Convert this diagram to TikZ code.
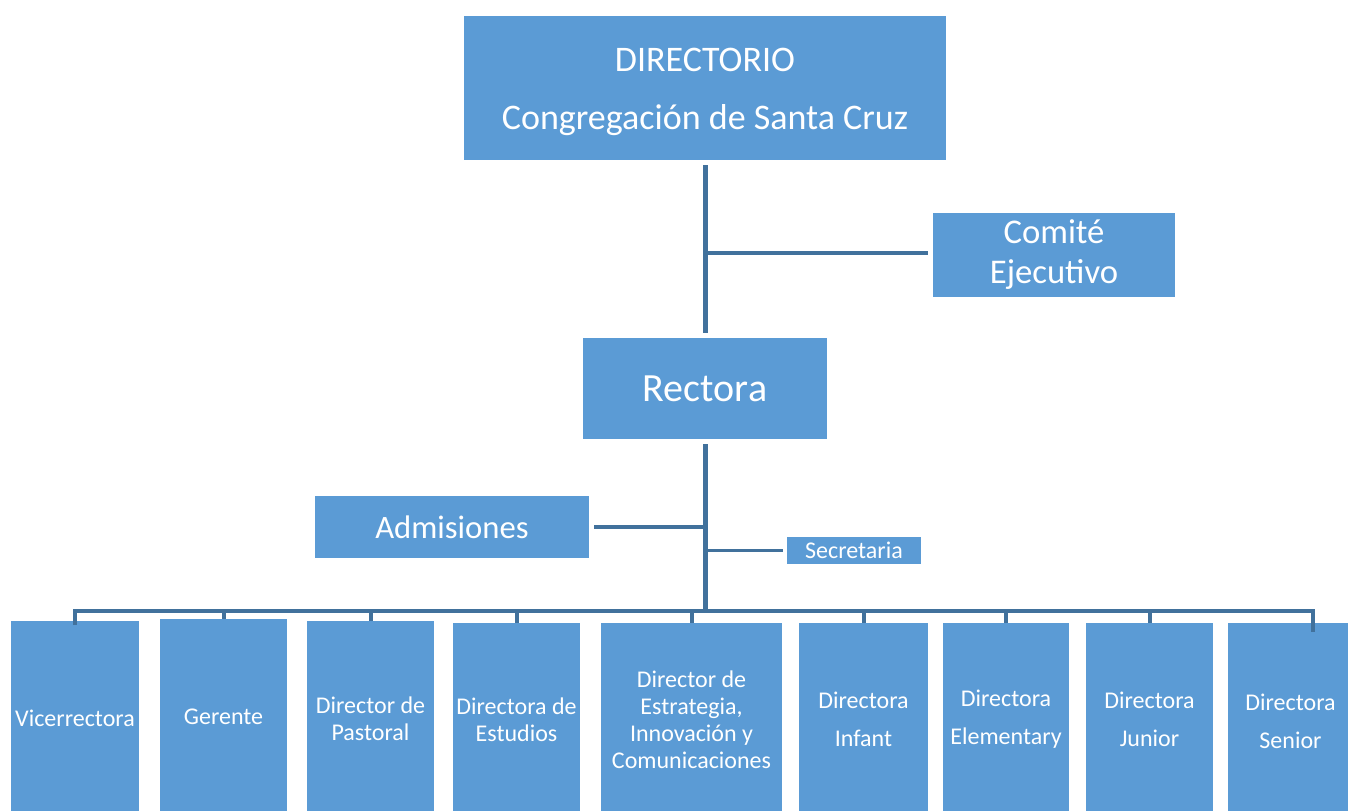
\documentclass[tikz,border=0pt]{standalone}
\usepackage{fontspec}
\setmainfont{Carlito}
\definecolor{boxblue}{HTML}{5B9BD5}
\definecolor{linkblue}{HTML}{41719C}
\begin{document}
\begin{tikzpicture}[x=0.75pt,y=-0.75pt,
  box/.style={fill=boxblue,text=white,inner sep=0pt,align=center},
  sz/.style 2 args={minimum width=#1*0.75pt,minimum height=#2*0.75pt},
  child/.style={box,anchor=north,font=\fontsize{18}{20.25}\selectfont},
  trunk/.style={draw=linkblue,line width=3.75pt},
  link/.style={draw=linkblue,line width=2.4pt},
  busline/.style={draw=linkblue,line width=3pt}]
\useasboundingbox (0,0) rectangle (1348,810);

\node[box,sz={482}{144},font=\fontsize{27}{43}\selectfont] (dir) at (705,88)
  {\rule{0pt}{23.5pt}DIRECTORIO\\Congregación de Santa Cruz};
\node[box,sz={242}{84},font=\fontsize{26}{30}\selectfont] (com) at (1054,254.5)
  {Comité\\Ejecutivo};
\node[box,sz={244}{101},font=\fontsize{30}{36}\selectfont] (rect) at (705,388.5)
  {Rectora};
\node[box,sz={274}{62},font=\fontsize{24.5}{29}\selectfont] (adm) at (452,527)
  {Admisiones};
\node[box,sz={134}{27},font=\fontsize{18}{21}\selectfont] (sec) at (854,550.5)
  {Secretaria};

\node[child,sz={128}{194}] (vic) at (75,621) {Vicerrectora};
\node[child,sz={127}{196}] (ger) at (223.5,619) {Gerente};
\node[child,sz={127}{194}] (pas) at (370.5,621) {Director de\\Pastoral};
\node[child,sz={127}{192}] (est) at (516.5,623) {Directora de\\Estudios};
\node[child,sz={181}{192}] (estr) at (691.5,623) {Director de\\Estrategia,\\Innovación y\\Comunicaciones};
\node[child,sz={129}{192}] (inf) at (863.5,623) {Directora\\[8.25pt]Infant};
\node[child,sz={126}{192}] (ele) at (1006,623) {Directora\\[8.25pt]Elementary};
\node[child,sz={127}{192}] (jun) at (1149.5,623) {Directora\\[8.25pt]Junior};
\node[child,sz={125}{196}] (sen) at (1290.5,623) {Directora\\[8.25pt]Senior};

\coordinate (bus) at (705,611);
\coordinate (senin) at (1313,632);

% upper trunk and Comité
\draw[trunk] ([yshift=-3.75pt]dir.south) -- ([yshift=3.75pt]dir.south |- rect.north);
\draw[link] (dir.south |- 0,253) -- ([xshift=-3.75pt]com.west |- 0,253);

% lower trunk and side boxes
\draw[trunk] ([yshift=-3.75pt]rect.south) -- (rect.south |- bus);
\draw[link] ([xshift=3.75pt]adm.east) -- (adm.east -| rect.south);
\draw[link] (sec.west -| rect.south) -- ([xshift=-3pt]sec.west);

% bus to the row of directors
\draw[busline] ([yshift=-3pt]vic.north) -- (vic.north |- bus) -- (bus) -| (senin);
\foreach \c in {ger,pas,est,estr,inf,ele,jun}
  \draw[busline] (bus -| \c.north) -- (\c.north);
\end{tikzpicture}
\end{document}
